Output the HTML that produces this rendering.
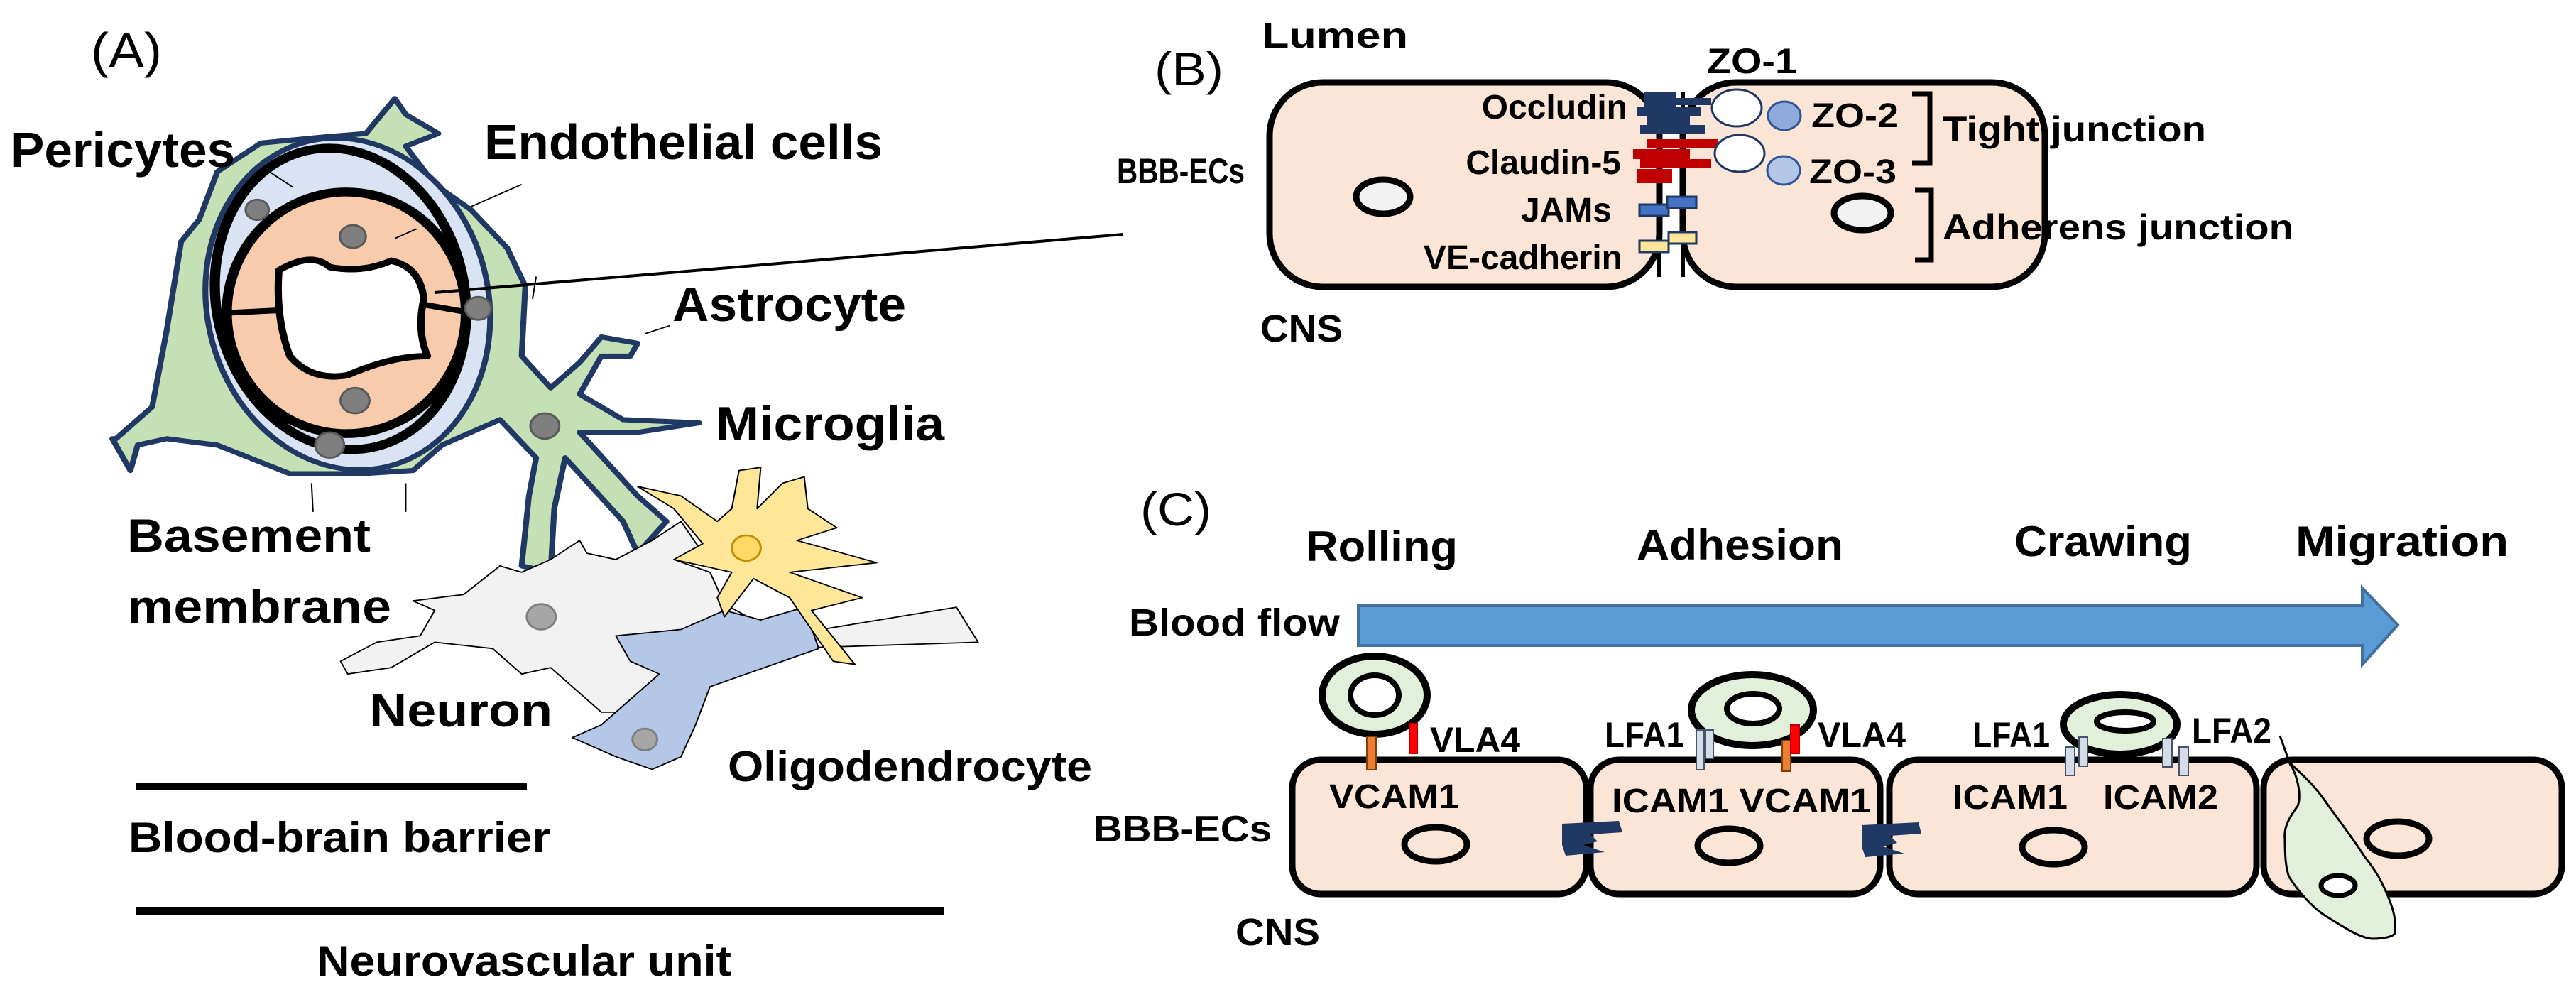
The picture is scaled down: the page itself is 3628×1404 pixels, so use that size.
<!DOCTYPE html>
<html><head><meta charset="utf-8"><style>
html,body{margin:0;padding:0;background:#fff;}
svg{display:block;}
text{font-family:"Liberation Sans",sans-serif;font-weight:bold;fill:#000;}
</style></head><body>
<svg width="3628" height="1404" viewBox="0 0 3628 1404" xmlns="http://www.w3.org/2000/svg">
<!-- ===== Panel A ===== -->
<g transform="scale(1.0204 0.8954)" stroke-linejoin="round">
  <path d="M160,690 L210,640 L230,520 L250,380 L275,345 L300,270 L360,225 L450,215 L505,210 L545,155 L560,180 L605,210 L560,230 L600,290 L650,330 L700,390 L725,450 L720,560 L760,610 L800,570 L830,530 L880,540 L870,560 L830,560 L800,620 L860,660 L965,665 L880,680 L800,680 L880,780 L920,820 L880,870 L860,820 L780,720 L765,800 L760,900 L720,890 L730,780 L740,720 L690,660 L610,700 L570,740 L500,745 L400,745 L300,700 L230,690 L190,700 L180,740 L155,690 Z" fill="#c5e0b4" stroke="#203864" stroke-width="8"/>
  <ellipse cx="480" cy="478" rx="195" ry="262" fill="#dae3f3" stroke="#203864" stroke-width="8" transform="rotate(-8 480 478)"/>
  <ellipse cx="470" cy="470" rx="172" ry="238" fill="none" stroke="#000" stroke-width="14" transform="rotate(-8 470 470)"/>
  <ellipse cx="478" cy="492" rx="165" ry="190" fill="#f8cbad" stroke="#000" stroke-width="14"/>
  <path d="M385,425 Q430,395 455,420 Q500,430 540,410 Q580,420 585,470 Q575,520 590,560 Q540,560 480,590 Q430,600 400,560 Q380,500 385,425 Z" fill="#fff" stroke="#000" stroke-width="10"/>
  <line x1="315" y1="492" x2="385" y2="488" stroke="#000" stroke-width="9"/>
  <line x1="580" y1="478" x2="640" y2="490" stroke="#000" stroke-width="9"/>
  <g fill="#7f7f7f" stroke="#595959" stroke-width="3">
    <circle cx="355" cy="330" r="16"/><circle cx="487" cy="372" r="18"/>
    <circle cx="490" cy="630" r="20"/><circle cx="455" cy="700" r="20"/>
    <circle cx="660" cy="485" r="18"/><circle cx="752" cy="670" r="20"/>
  </g>
  <path d="M470,1040 L520,1010 L580,1000 L600,960 L570,945 L640,935 L690,890 L720,900 L760,880 L800,850 L810,870 L850,880 L900,850 L940,820 L970,870 L930,880 L980,900 L1000,950 L1080,1000 L1320,955 L1350,1010 L1080,1020 L950,1010 L920,1100 L900,1120 L830,1120 L800,1090 L760,1050 L720,1060 L680,1020 L600,1010 L540,1050 L480,1060 Z" fill="#f2f2f2" stroke="#000" stroke-width="2"/>
  <path d="M850,1000 L940,990 L1000,960 L1050,975 L1110,955 L1130,1020 L1080,1040 L980,1080 L960,1140 L940,1190 L900,1210 L850,1190 L790,1160 L830,1140 L870,1100 L910,1060 L870,1040 Z" fill="#b4c7e7" stroke="#000" stroke-width="2"/>
  <path d="M1020,740 L1050,735 L1045,800 L1080,760 L1110,750 L1115,800 L1155,830 L1100,850 L1210,885 L1090,900 L1190,940 L1120,960 L1180,1045 L1150,1040 L1090,940 L1040,910 L1000,970 L990,940 L1010,900 L930,880 L970,855 L930,800 L880,765 L940,780 L990,820 L1010,800 Z" fill="#ffe699" stroke="#000" stroke-width="2"/>
  <circle cx="1030" cy="862" r="20" fill="#ffd966" stroke="#bf9000" stroke-width="3"/>
  <circle cx="747" cy="970" r="20" fill="#a6a6a6" stroke="#7f7f7f" stroke-width="3"/>
  <circle cx="890" cy="1163" r="17" fill="#a6a6a6" stroke="#7f7f7f" stroke-width="3"/>
  <g stroke="#000" stroke-width="2">
    <line x1="365" y1="265" x2="405" y2="295"/><line x1="720" y1="290" x2="650" y2="325"/>
    <line x1="545" y1="375" x2="575" y2="360"/><line x1="430" y1="760" x2="432" y2="805"/>
    <line x1="560" y1="760" x2="560" y2="805"/><line x1="890" y1="525" x2="925" y2="512"/>
    <line x1="740" y1="435" x2="735" y2="470"/>
  </g>
</g>
<line x1="612" y1="412" x2="1582" y2="330" stroke="#000" stroke-width="4"/>
<text x="128" y="95" font-size="70" style="font-weight:normal" textLength="100" lengthAdjust="spacingAndGlyphs">(A)</text>
<text x="15" y="235" font-size="70" textLength="316" lengthAdjust="spacingAndGlyphs">Pericytes</text>
<text x="682" y="224" font-size="70" textLength="561" lengthAdjust="spacingAndGlyphs">Endothelial cells</text>
<text x="947" y="452" font-size="68" textLength="329" lengthAdjust="spacingAndGlyphs">Astrocyte</text>
<text x="1008" y="620" font-size="68" textLength="322" lengthAdjust="spacingAndGlyphs">Microglia</text>
<text x="179" y="777" font-size="66" textLength="343" lengthAdjust="spacingAndGlyphs">Basement</text>
<text x="179" y="877" font-size="66" textLength="372" lengthAdjust="spacingAndGlyphs">membrane</text>
<text x="520" y="1023" font-size="66" textLength="258" lengthAdjust="spacingAndGlyphs">Neuron</text>
<text x="1025" y="1100" font-size="60" textLength="513" lengthAdjust="spacingAndGlyphs">Oligodendrocyte</text>
<rect x="191" y="1102" width="551" height="11" fill="#000"/>
<text x="181" y="1200" font-size="60" textLength="594" lengthAdjust="spacingAndGlyphs">Blood-brain barrier</text>
<rect x="191" y="1277" width="1138" height="11" fill="#000"/>
<text x="446" y="1374" font-size="60" textLength="584" lengthAdjust="spacingAndGlyphs">Neurovascular unit</text>

<!-- ===== Panel B ===== -->
<text x="1626" y="120" font-size="66" style="font-weight:normal" textLength="97" lengthAdjust="spacingAndGlyphs">(B)</text>
<text x="1777" y="67" font-size="50" textLength="206" lengthAdjust="spacingAndGlyphs">Lumen</text>
<text x="2404" y="103" font-size="50" textLength="127" lengthAdjust="spacingAndGlyphs">ZO-1</text>
<text x="1573" y="258" font-size="50" textLength="180" lengthAdjust="spacingAndGlyphs">BBB-ECs</text>
<rect x="1788" y="116" width="549" height="288" rx="75" fill="#fbe5d6" stroke="#000" stroke-width="9"/>
<rect x="2370" y="116" width="510" height="288" rx="75" fill="#fbe5d6" stroke="#000" stroke-width="9"/>
<line x1="2337" y1="130" x2="2337" y2="390" stroke="#000" stroke-width="6"/>
<line x1="2370" y1="130" x2="2370" y2="390" stroke="#000" stroke-width="6"/>
<ellipse cx="1948" cy="277" rx="38" ry="24" fill="#f2f2f2" stroke="#000" stroke-width="9"/>
<ellipse cx="2623" cy="300" rx="40" ry="24" fill="#f2f2f2" stroke="#000" stroke-width="9"/>
<g fill="#1f3864">
  <rect x="2315" y="130" width="45" height="20"/><rect x="2305" y="150" width="90" height="14"/>
  <rect x="2320" y="164" width="60" height="12"/><rect x="2310" y="176" width="92" height="12"/>
  <rect x="2360" y="138" width="50" height="10"/>
</g>
<g fill="#c00000">
  <rect x="2320" y="196" width="100" height="12"/><rect x="2300" y="210" width="80" height="14"/>
  <rect x="2310" y="224" width="100" height="12"/><rect x="2305" y="238" width="50" height="20"/>
</g>
<ellipse cx="2446" cy="152" rx="35" ry="26" fill="#fff" stroke="#1f3864" stroke-width="3"/>
<ellipse cx="2513" cy="163" rx="23" ry="20" fill="#8faadc" stroke="#2f5597" stroke-width="3"/>
<ellipse cx="2450" cy="216" rx="35" ry="26" fill="#fff" stroke="#1f3864" stroke-width="3"/>
<ellipse cx="2512" cy="240" rx="23" ry="20" fill="#b4c7e7" stroke="#2f5597" stroke-width="3"/>
<rect x="2309" y="288" width="41" height="16" fill="#4472c4" stroke="#1f3864" stroke-width="3"/>
<rect x="2348" y="277" width="41" height="16" fill="#4472c4" stroke="#1f3864" stroke-width="3"/>
<rect x="2309" y="339" width="41" height="16" fill="#ffe699" stroke="#1f3864" stroke-width="3"/>
<rect x="2350" y="327" width="39" height="16" fill="#ffe699" stroke="#1f3864" stroke-width="3"/>
<text x="2292" y="167" font-size="48" text-anchor="end">Occludin</text>
<text x="2283" y="245" font-size="48" text-anchor="end">Claudin-5</text>
<text x="2270" y="312" font-size="48" text-anchor="end">JAMs</text>
<text x="2285" y="379" font-size="48" text-anchor="end">VE-cadherin</text>
<text x="2551" y="179" font-size="48" textLength="123" lengthAdjust="spacingAndGlyphs">ZO-2</text>
<text x="2548" y="258" font-size="48" textLength="123" lengthAdjust="spacingAndGlyphs">ZO-3</text>
<path d="M2693,132 H2718 V230 H2693" fill="none" stroke="#000" stroke-width="7"/>
<path d="M2697,268 H2720 V366 H2697" fill="none" stroke="#000" stroke-width="7"/>
<text x="2736" y="199" font-size="50" textLength="371" lengthAdjust="spacingAndGlyphs">Tight junction</text>
<text x="2736" y="337" font-size="50" textLength="494" lengthAdjust="spacingAndGlyphs">Adherens junction</text>
<text x="1775" y="481" font-size="54" textLength="116" lengthAdjust="spacingAndGlyphs">CNS</text>

<!-- ===== Panel C ===== -->
<text x="1606" y="740" font-size="66" style="font-weight:normal" textLength="100" lengthAdjust="spacingAndGlyphs">(C)</text>
<text x="1839" y="790" font-size="60" textLength="214" lengthAdjust="spacingAndGlyphs">Rolling</text>
<text x="2305" y="788" font-size="60" textLength="291" lengthAdjust="spacingAndGlyphs">Adhesion</text>
<text x="2837" y="783" font-size="60" textLength="250" lengthAdjust="spacingAndGlyphs">Crawing</text>
<text x="3233" y="783" font-size="60" textLength="300" lengthAdjust="spacingAndGlyphs">Migration</text>
<text x="1590" y="895" font-size="54" textLength="297" lengthAdjust="spacingAndGlyphs">Blood flow</text>
<path d="M1913,853 H3327 V828 L3377,880 L3327,936 V909 H1913 Z" fill="#5b9bd5" stroke="#41719c" stroke-width="4"/>
<g fill="#fbe5d6" stroke="#000" stroke-width="9">
  <rect x="1820" y="1070" width="414" height="189" rx="40"/>
  <rect x="2240" y="1070" width="408" height="189" rx="40"/>
  <rect x="2661" y="1070" width="517" height="189" rx="40"/>
  <rect x="3188" y="1070" width="420" height="189" rx="40"/>
</g>
<g fill="none" stroke="#000" stroke-width="9">
  <ellipse cx="2022" cy="1189" rx="44" ry="24"/><ellipse cx="2435" cy="1191" rx="44" ry="24"/>
  <ellipse cx="2892" cy="1193" rx="44" ry="24"/><ellipse cx="3377" cy="1181" rx="44" ry="24"/>
</g>
<g fill="#1f3864">
  <path d="M2200,1160 L2280,1156 L2285,1172 L2240,1175 L2250,1185 L2230,1190 L2260,1200 L2205,1205 L2200,1190 Z"/>
  <path d="M2622,1162 L2702,1158 L2706,1174 L2662,1177 L2672,1187 L2652,1192 L2682,1202 L2627,1207 L2622,1192 Z"/>
</g>
<!-- migrating cell -->
<path d="M3224,1073 C3240,1100 3240,1125 3236,1135 C3225,1150 3216,1165 3218,1181 C3218,1210 3220,1225 3224,1235 C3240,1260 3260,1280 3274,1289 C3300,1305 3325,1322 3342,1322 C3360,1322 3373,1318 3373,1313 C3375,1295 3370,1280 3367,1272 C3355,1240 3345,1225 3330,1206 C3310,1175 3290,1150 3274,1127 C3255,1100 3235,1085 3224,1073 Z" fill="#e2efda" stroke="#000" stroke-width="3"/>
<line x1="3211" y1="1036" x2="3226" y2="1078" stroke="#000" stroke-width="3"/>
<ellipse cx="3293" cy="1247" rx="24" ry="14" fill="#fff" stroke="#000" stroke-width="7"/>
<!-- leukocytes -->
<ellipse cx="1936" cy="979" rx="74" ry="55" fill="#e2efda" stroke="#000" stroke-width="10"/>
<ellipse cx="1936" cy="979" rx="34" ry="28" fill="#fff" stroke="#000" stroke-width="8"/>
<ellipse cx="2468" cy="1000" rx="86" ry="50" fill="#e2efda" stroke="#000" stroke-width="10"/>
<ellipse cx="2469" cy="998" rx="37" ry="21" fill="#fff" stroke="#000" stroke-width="8"/>
<ellipse cx="2986" cy="1020" rx="80" ry="42" fill="#e2efda" stroke="#000" stroke-width="10"/>
<ellipse cx="2993" cy="1016" rx="40" ry="13" fill="#fff" stroke="#000" stroke-width="8"/>
<rect x="1925" y="1037" width="13" height="47" fill="#ed7d31" stroke="#843c0c" stroke-width="2"/>
<rect x="1985" y="1019" width="11" height="42" fill="#ff0000" stroke="#c00000" stroke-width="2"/>
<g fill="#d6dce5" stroke="#44546a" stroke-width="2">
  <rect x="2389" y="1028" width="11" height="56"/><rect x="2402" y="1028" width="11" height="40"/>
  <rect x="2909" y="1052" width="13" height="40"/><rect x="2928" y="1038" width="12" height="41"/>
  <rect x="3046" y="1040" width="13" height="40"/><rect x="3069" y="1052" width="13" height="40"/>
</g>
<rect x="2510" y="1043" width="12" height="43" fill="#ed7d31" stroke="#843c0c" stroke-width="2"/>
<rect x="2522" y="1021" width="12" height="40" fill="#ff0000" stroke="#c00000" stroke-width="2"/>
<text x="2014" y="1059" font-size="50" textLength="127" lengthAdjust="spacingAndGlyphs">VLA4</text>
<text x="2260" y="1052" font-size="50" textLength="112" lengthAdjust="spacingAndGlyphs">LFA1</text>
<text x="2560" y="1052" font-size="50" textLength="124" lengthAdjust="spacingAndGlyphs">VLA4</text>
<text x="2778" y="1052" font-size="50" textLength="109" lengthAdjust="spacingAndGlyphs">LFA1</text>
<text x="3087" y="1046" font-size="50" textLength="112" lengthAdjust="spacingAndGlyphs">LFA2</text>
<text x="1872" y="1138" font-size="48" textLength="183" lengthAdjust="spacingAndGlyphs">VCAM1</text>
<text x="2270" y="1144" font-size="48" textLength="365" lengthAdjust="spacingAndGlyphs">ICAM1 VCAM1</text>
<text x="2750" y="1139" font-size="48" textLength="162" lengthAdjust="spacingAndGlyphs">ICAM1</text>
<text x="2962" y="1139" font-size="48" textLength="162" lengthAdjust="spacingAndGlyphs">ICAM2</text>
<text x="1540" y="1185" font-size="52" textLength="251" lengthAdjust="spacingAndGlyphs">BBB-ECs</text>
<text x="1740" y="1331" font-size="54" textLength="119" lengthAdjust="spacingAndGlyphs">CNS</text>
</svg>
</body></html>
